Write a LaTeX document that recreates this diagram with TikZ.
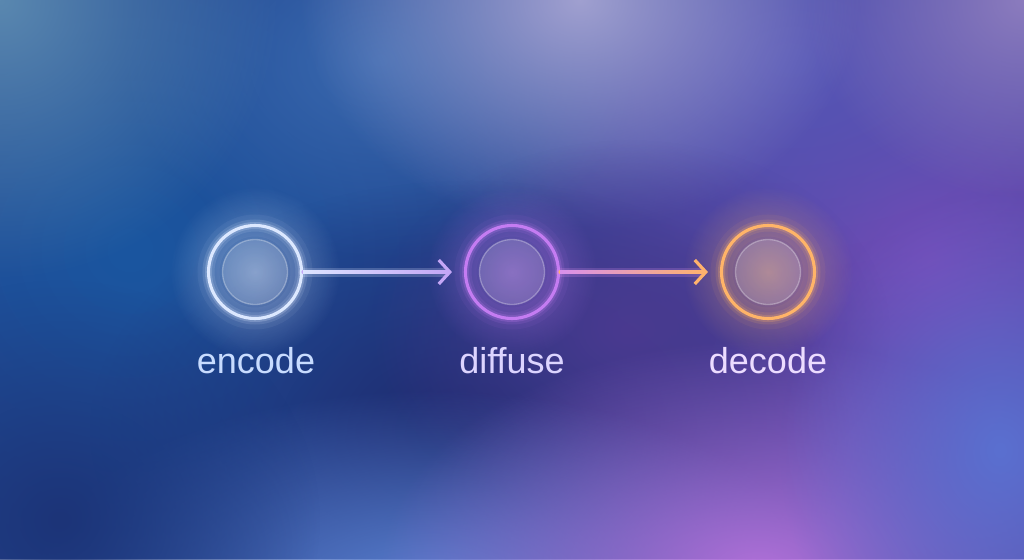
\documentclass[tikz,border=0pt]{standalone}
\usepackage{fontspec}
\setmainfont{Liberation Sans}
\usetikzlibrary{fadings,arrows.meta,calc}
\tikzfading[name=softblob, inner color=transparent!0, outer color=transparent!100]
\definecolor{bgbase}{HTML}{26448E}
\definecolor{bA}{HTML}{1A56A0}
\definecolor{bB}{HTML}{8048B8}
\definecolor{bC}{HTML}{5656B6}
\definecolor{bD}{HTML}{A0A0D0}
\definecolor{bE}{HTML}{5A88B0}
\definecolor{bF}{HTML}{8C7CBE}
\definecolor{bG}{HTML}{1E2A6E}
\definecolor{bH}{HTML}{4A3A90}
\definecolor{bI}{HTML}{5A80D0}
\definecolor{bJ}{HTML}{B070D8}
\definecolor{bK}{HTML}{5A70D0}
\definecolor{bL}{HTML}{1C3478}
\definecolor{bM}{HTML}{3A6AB0}
\definecolor{encring}{HTML}{DCE8FF}
\definecolor{difring}{HTML}{C47CF2}
\definecolor{decring}{HTML}{FFB468}
\definecolor{enctext}{HTML}{C8DCFF}
\definecolor{diftext}{HTML}{DCD4FF}
\definecolor{dectext}{HTML}{ECDCFF}
\definecolor{arA}{HTML}{DCE4FF}
\definecolor{arB}{HTML}{C4A6F6}
\definecolor{arC}{HTML}{D890EC}
\definecolor{arD}{HTML}{FFB26C}
\tikzset{
  blob/.style={fill=#1, path fading=softblob},
  ring/.style={circle, draw=#1, line width=3.1pt, minimum size=93pt, inner sep=0pt},
  label/.style={anchor=base, font=\fontsize{36}{40}\selectfont, text=#1},
  linktip/.style={line width=3.2pt, draw=#1, line cap=round, shorten >=12pt,
    -{Straight Barb[length=11pt, width=24pt, line width=3.2pt]}},
}
\newcommand{\glowring}[3]{%
  \fill[blob=#3, opacity=0.45] (#1,#2) circle (85);
  \draw[#3, opacity=0.06, line width=22pt] (#1,#2) circle (46.5);
  \draw[#3, opacity=0.12, line width=12pt] (#1,#2) circle (46.5);
  \draw[#3, opacity=0.22, line width=7pt] (#1,#2) circle (46.5);
  \fill[white, opacity=0.15] (#1,#2) circle (32.5);
  \draw[white, opacity=0.30, line width=1.3pt] (#1,#2) circle (32.5);
}
\begin{document}
\begin{tikzpicture}[x=1pt, y=-1pt]
\useasboundingbox (0,0) rectangle (1024,559);
\fill[bgbase] (0,0) rectangle (1024,559);
% background blobs
\fill[blob=bA] (130,250) ellipse (400 and 380);
\fill[blob=bB] (930,260) ellipse (420 and 420);
\fill[blob=bC] (790,60) ellipse (420 and 280);
\fill[blob=bM] (380,60) ellipse (260 and 200);
\fill[blob=bD] (580,0) ellipse (280 and 230);
\fill[blob=bE] (0,0) ellipse (280 and 280);
\fill[blob=bF] (1024,0) ellipse (220 and 200);
\fill[blob=bG] (470,430) ellipse (380 and 250);
\fill[blob=bH] (630,330) ellipse (260 and 190);
\fill[blob=bI] (430,590) ellipse (400 and 200);
\fill[blob=bJ] (760,570) ellipse (380 and 230);
\fill[blob=bK] (1000,450) ellipse (220 and 260);
\fill[blob=bL] (60,520) ellipse (260 and 240);
% glows
\glowring{255}{272}{encring}
\glowring{512}{272}{difring}
\glowring{768}{272}{decring}
% nodes
\node[ring=encring] (enc) at (255,272) {};
\node[ring=difring] (dif) at (512,272) {};
\node[ring=decring] (dec) at (768,272) {};
% labels
\node[label=enctext] (encl) at (256,373) {encode};
\node[label=diftext] (difl) at (512,373) {diffuse};
\node[label=dectext] (decl) at (768,373) {decode};
% connector glows
\draw[arA, opacity=0.22, line width=9pt, line cap=round] (enc.east) -- ([xshift=-18pt]dif.west);
\draw[arC, opacity=0.22, line width=9pt, line cap=round] (dif.east) -- ([xshift=-18pt]dec.west);
% connectors
\draw[linktip=arB] (enc.east) -- (dif.west);
\shade[left color=arA, right color=arB] ($(enc.east)+(0,-1.6)$) rectangle ($(dif.west)+(-15,1.6)$);
\draw[linktip=arD] (dif.east) -- (dec.west);
\shade[left color=arC, right color=arD] ($(dif.east)+(0,-1.6)$) rectangle ($(dec.west)+(-15,1.6)$);
\end{tikzpicture}
\end{document}
